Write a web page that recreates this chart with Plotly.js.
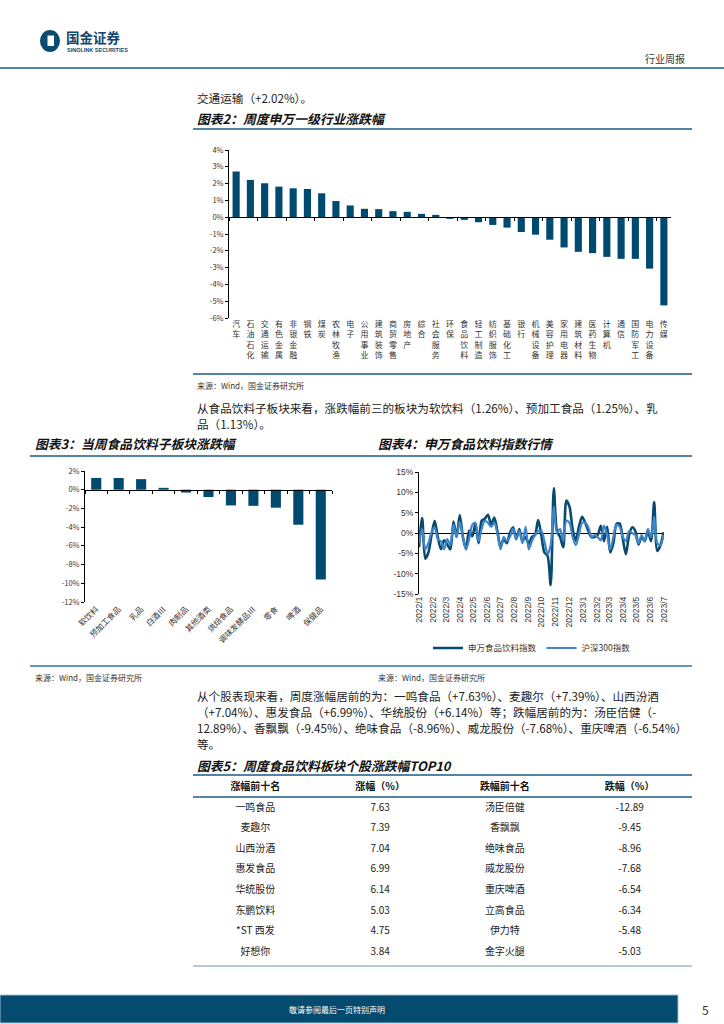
<!DOCTYPE html>
<html><head><meta charset="utf-8">
<script src="https://cdn.plot.ly/plotly-3.0.1.min.js"></script>
<style>html,body{margin:0;padding:0;background:#fff}#page{width:724px;height:1024px}</style>
</head><body><div id="page"></div>
<script>
// ---------------- data ----------------
const industries = ['汽车','石油石化','交通运输','有色金属','非银金融','钢铁','煤炭','农林牧渔','电子','公用事业','建筑装饰','商贸零售','房地产','综合','社会服务','环保','食品饮料','轻工制造','纺织服饰','基础化工','银行','机械设备','美容护理','家用电器','建筑材料','医药生物','计算机','通信','国防军工','电力设备','传媒'];
const industryChange = [2.72,2.22,2.02,1.82,1.72,1.68,1.42,0.96,0.70,0.50,0.48,0.36,0.32,0.20,0.14,-0.10,-0.16,-0.30,-0.46,-0.62,-0.88,-1.04,-1.34,-1.80,-2.06,-2.14,-2.36,-2.48,-2.48,-3.06,-5.25];
const chart2Ticks = ['4%','3%','2%','1%','0%','-1%','-2%','-3%','-4%','-5%','-6%'];

const subSectors = ['软饮料','预加工食品','乳品','白酒Ⅲ','肉制品','其他酒类','烘焙食品','调味发酵品Ⅲ','零食','啤酒','保健品'];
const subChange = [1.26,1.25,1.13,0.20,-0.30,-0.78,-1.68,-1.72,-1.92,-3.74,-9.60];
const chart3Ticks = ['2%','0%','-2%','-4%','-6%','-8%','-10%','-12%'];

const weekDates = ['2021-12-31','2022-01-07','2022-01-14','2022-01-21','2022-01-28','2022-02-04','2022-02-11','2022-02-18','2022-02-25','2022-03-04','2022-03-11','2022-03-18','2022-03-25','2022-04-01','2022-04-08','2022-04-15','2022-04-22','2022-04-29','2022-05-06','2022-05-13','2022-05-20','2022-05-27','2022-06-03','2022-06-10','2022-06-17','2022-06-24','2022-07-01','2022-07-08','2022-07-15','2022-07-22','2022-07-29','2022-08-05','2022-08-12','2022-08-19','2022-08-26','2022-09-02','2022-09-09','2022-09-16','2022-09-23','2022-09-30','2022-10-07','2022-10-14','2022-10-21','2022-10-28','2022-11-04','2022-11-11','2022-11-18','2022-11-25','2022-12-02','2022-12-09','2022-12-16','2022-12-23','2022-12-30','2023-01-06','2023-01-13','2023-01-20','2023-01-27','2023-02-03','2023-02-10','2023-02-17','2023-02-24','2023-03-03','2023-03-10','2023-03-17','2023-03-24','2023-03-31','2023-04-07','2023-04-14','2023-04-21','2023-04-28','2023-05-05','2023-05-12','2023-05-19','2023-05-26','2023-06-02','2023-06-09','2023-06-16','2023-06-23','2023-06-30'];
const swFoodBev = [-3.5,3.7,-6.3,-4.8,-0.5,3.0,-1.0,-4.0,-1.8,-2.8,-4.0,2.8,-1.0,4.4,-1.0,-4.0,0.6,-0.8,2.2,-2.5,3.0,3.5,4.5,2.0,3.8,0.5,-3.4,-1.5,-2.5,0.0,1.4,-1.5,1.0,-2.0,-1.0,-2.7,-1.0,-0.5,3.2,-0.5,-4.8,-5.6,-12.8,11.0,0.5,-1.0,-3.5,8.0,6.5,1.0,-1.9,1.5,4.0,2.5,0.5,-1.0,-1.0,-0.5,1.8,-2.0,1.5,-4.8,-2.5,2.2,2.3,-1.5,-5.2,-0.5,1.4,0.5,-2.8,-1.0,-2.0,0.5,-2.0,7.6,-4.4,-3.0,0.2];
const hs300 = [-2.5,1.0,-4.0,-2.5,0.2,1.3,-1.5,-2.0,-4.0,-1.5,-3.0,2.0,-1.0,2.8,-1.0,-4.0,-1.5,2.0,2.5,-2.0,1.0,3.0,2.5,1.5,2.5,0.0,-4.0,-1.0,-2.0,-1.0,1.0,-1.5,0.5,-2.5,1.5,-4.0,-2.0,-0.5,0.5,0.5,-2.0,-5.2,-3.0,6.5,0.0,1.0,-2.0,3.0,2.5,-1.0,-3.0,-0.5,2.5,2.5,1.5,-1.0,-0.5,-1.0,-1.8,1.8,-0.5,-4.0,-1.0,2.0,1.5,-1.0,-2.0,0.5,0.0,-0.5,-2.5,-0.5,-2.0,1.0,-1.0,4.0,-2.5,-3.0,-0.5];
const seriesNames = ['申万食品饮料指数','沪深300指数'];
const monthTicks = ['2022/1','2022/2','2022/3','2022/4','2022/5','2022/6','2022/7','2022/8','2022/9','2022/10','2022/11','2022/12','2023/1','2023/2','2023/3','2023/4','2023/5','2023/6','2023/7'];
const chart4Ticks = ['15%','10%','5%','0%','-5%','-10%','-15%'];

const tableHeader = ['涨幅前十名','涨幅（%）','跌幅前十名','跌幅（%）'];
const gainers = ['一鸣食品','麦趣尔','山西汾酒','惠发食品','华统股份','东鹏饮料','*ST 西发','好想你'];
const gainPct = [7.63,7.39,7.04,6.99,6.14,5.03,4.75,3.84];
const losers = ['汤臣倍健','香飘飘','绝味食品','威龙股份','重庆啤酒','立高食品','伊力特','金字火腿'];
const lossPct = [-12.89,-9.45,-8.96,-7.68,-6.54,-6.34,-5.48,-5.03];

// ---------------- texts ----------------
const txtIntro = '交通运输（+2.02%）。';
const txtTitle2 = '图表2：周度申万一级行业涨跌幅';
const txtSource = '来源：Wind，国金证券研究所';
const txtPara1 = ['从食品饮料子板块来看，涨跌幅前三的板块为软饮料（1.26%）、预加工食品（1.25%）、乳','品（1.13%）。'];
const txtTitle3 = '图表3：当周食品饮料子板块涨跌幅';
const txtTitle4 = '图表4：申万食品饮料指数行情';
const txtPara2 = ['从个股表现来看，周度涨幅居前的为：一鸣食品（+7.63%）、麦趣尔（+7.39%）、山西汾酒','（+7.04%）、惠发食品（+6.99%）、华统股份（+6.14%）等；跌幅居前的为：汤臣倍健（-','12.89%）、香飘飘（-9.45%）、绝味食品（-8.96%）、威龙股份（-7.68%）、重庆啤酒（-6.54%）','等。'];
const txtTitle5 = '图表5：周度食品饮料板块个股涨跌幅TOP10';

// ---------------- helpers ----------------
const W = 724, H = 1024;
const fx = p => p / W, fy = p => 1 - p / H;
const CJK = '"Noto Sans CJK SC", "Noto Sans", sans-serif';
const NAVY = '#004a70', RULE = '#1d5a86', RULE2 = '#6a95b3', TXT = '#222222';
const BODY = 11.6, TITLE = 12.8;
const pct = s => parseFloat(s);
const toDate = s => { const [y, m] = s.split('/'); return y + '-' + m.padStart(2, '0') + '-01'; };
const zeroPos = (dom, rng) => dom[0] + (0 - rng[0]) / (rng[1] - rng[0]) * (dom[1] - dom[0]);

function note(text, x, y, opt = {}) {
  return Object.assign({
    text, x: fx(x), y: fy(y), xref: 'paper', yref: 'paper', showarrow: false,
    xanchor: 'left', yanchor: 'middle',
    font: { family: CJK, size: BODY, color: TXT }
  }, opt);
}
function hline(y, x0, x1, color, w) {
  return { type: 'line', xref: 'paper', yref: 'paper', x0: fx(x0), x1: fx(x1), y0: fy(y), y1: fy(y), line: { color, width: w } };
}
const titleFont = { family: CJK, size: TITLE, color: '#111' };

// ---------------- geometry ----------------
const c2dx = [fx(229), fx(671)], c2dy = [fy(318), fy(150)], c2r = [-6, 4];
const c3dx = [fx(85), fx(332)], c3dy = [fy(602), fy(471)], c3r = [-12, 2];
const c4dx = [fx(419), fx(664)], c4dy = [fy(594), fy(472)], c4r = [-15, 15];

const vert = s => s.split('').join('<br>');

const traces = [
  { type: 'bar', x: industries, y: industryChange, xaxis: 'x', yaxis: 'y', width: 0.5,
    marker: { color: NAVY }, showlegend: false, hoverinfo: 'x+y' },
  { type: 'scatter', mode: 'markers', x: industries, y: industryChange, xaxis: 'x2', yaxis: 'y',
    marker: { opacity: 0 }, showlegend: false, hoverinfo: 'skip' },
  { type: 'bar', x: subSectors, y: subChange, xaxis: 'x3', yaxis: 'y3', width: 0.45,
    marker: { color: NAVY }, showlegend: false, hoverinfo: 'x+y' },
  { type: 'scatter', mode: 'markers', x: subSectors, y: subChange, xaxis: 'x5', yaxis: 'y3',
    marker: { opacity: 0 }, showlegend: false, hoverinfo: 'skip' },
  { type: 'scatter', mode: 'lines', x: weekDates, y: swFoodBev, xaxis: 'x4', yaxis: 'y4', name: seriesNames[0],
    line: { color: '#0b4a6f', width: 2.6, shape: 'spline', smoothing: 0.8 } },
  { type: 'scatter', mode: 'lines', x: weekDates, y: hs300, xaxis: 'x4', yaxis: 'y4', name: seriesNames[1],
    line: { color: '#3f86c8', width: 2.2, shape: 'spline', smoothing: 0.8 } },
  { type: 'table', domain: { x: [fx(193), fx(692)], y: [fy(971), fy(774)] },
    columnwidth: [1, 1, 1, 1],
    header: { values: tableHeader, height: 21, align: 'center',
      fill: { color: '#ffffff' }, line: { color: '#ffffff', width: 0 },
      font: { family: CJK, size: 10, color: '#111', weight: 'bold' } },
    cells: { values: [gainers, gainPct.map(v => v.toFixed(2)), losers, lossPct.map(v => v.toFixed(2))],
      height: 20.6, align: 'center', fill: { color: '#ffffff' }, line: { color: '#ffffff', width: 0 },
      font: { family: CJK, size: 10, color: TXT } } }
];

const tickFont = { family: CJK, size: 7.5, color: '#333' };
const layout = {
  width: W, height: H, margin: { l: 0, r: 0, t: 0, b: 0 },
  paper_bgcolor: '#ffffff', plot_bgcolor: 'rgba(0,0,0,0)',
  font: { family: CJK, color: TXT },
  // chart 2
  xaxis: { domain: c2dx, anchor: 'free', position: zeroPos(c2dy, c2r), type: 'category', range: [-0.5, industries.length - 0.5],
    showline: true, linecolor: '#000', linewidth: 1, ticks: 'outside', ticklen: 3, tickcolor: '#000', tickson: 'boundaries',
    showticklabels: false, showgrid: false, zeroline: false, fixedrange: true },
  xaxis2: { overlaying: 'x', anchor: 'y', side: 'bottom', type: 'category', range: [-0.5, industries.length - 0.5],
    tickvals: industries, ticktext: industries.map(vert), tickangle: 0, ticks: '', showline: false, showgrid: false,
    tickfont: { family: CJK, size: 8, color: '#333' }, fixedrange: true },
  yaxis: { domain: c2dy, anchor: 'x', range: c2r, tickvals: chart2Ticks.map(pct), ticktext: chart2Ticks,
    showline: true, linecolor: '#000', linewidth: 1, ticks: 'outside', ticklen: 3, tickcolor: '#000',
    showgrid: false, zeroline: false, tickfont: tickFont, fixedrange: true },
  // chart 3
  xaxis3: { domain: c3dx, anchor: 'free', position: zeroPos(c3dy, c3r), type: 'category', range: [-0.5, subSectors.length - 0.5],
    showline: true, linecolor: '#000', linewidth: 1, ticks: 'outside', ticklen: 3, tickcolor: '#000', tickson: 'boundaries',
    showticklabels: false, showgrid: false, zeroline: false, fixedrange: true },
  xaxis5: { overlaying: 'x3', anchor: 'y3', side: 'bottom', type: 'category', range: [-0.5, subSectors.length - 0.5],
    tickvals: subSectors, ticktext: subSectors, tickangle: -45, ticks: '', showline: false, showgrid: false,
    tickfont: { family: CJK, size: 8, color: '#333' }, fixedrange: true },
  yaxis3: { domain: c3dy, anchor: 'x3', range: c3r, tickvals: chart3Ticks.map(pct), ticktext: chart3Ticks,
    showline: true, linecolor: '#000', linewidth: 1, ticks: 'outside', ticklen: 3, tickcolor: '#000',
    showgrid: false, zeroline: false, tickfont: tickFont, fixedrange: true },
  // chart 4
  xaxis4: { domain: c4dx, anchor: 'y4', type: 'date', range: ['2021-12-31', '2023-07-01'],
    tickvals: monthTicks.map(toDate), ticktext: monthTicks, tickangle: -90, ticks: '', showline: false, showgrid: false,
    zeroline: false, tickfont: { family: 'Arial, "Liberation Sans", sans-serif', size: 8.5, color: '#333' }, fixedrange: true },
  yaxis4: { domain: c4dy, anchor: 'x4', range: c4r, tickvals: chart4Ticks.map(pct), ticktext: chart4Ticks,
    showline: true, linecolor: '#000', linewidth: 1, ticks: 'outside', ticklen: 3, tickcolor: '#000',
    showgrid: false, zeroline: true, zerolinecolor: '#000', zerolinewidth: 1,
    tickfont: { family: 'Arial, "Liberation Sans", sans-serif', size: 8.5, color: '#333' }, fixedrange: true },
  showlegend: true,
  legend: { orientation: 'h', x: fx(532), y: fy(648), xanchor: 'center', yanchor: 'middle',
    font: { family: CJK, size: 8.5, color: '#333' }, bgcolor: 'rgba(0,0,0,0)', itemwidth: 30, tracegroupgap: 0 },
  shapes: [
    // logo
    { type: 'circle', xref: 'paper', yref: 'paper', x0: fx(40), x1: fx(60), y0: fy(52), y1: fy(30), fillcolor: '#0b4a72', line: { width: 0 } },
    { type: 'rect', xref: 'paper', yref: 'paper', x0: fx(47.5), x1: fx(54), y0: fy(46), y1: fy(35.5), fillcolor: '#ffffff', line: { width: 0 } },
    hline(68, 0, 724, RULE, 1.6),
    hline(129, 193, 692, RULE, 1.6),
    hline(374, 193, 692, RULE, 1.6),
    hline(456, 30, 692, RULE, 1.6),
    hline(666, 30, 692, RULE2, 2),
    hline(775, 193, 692, RULE, 1.5),
    hline(797, 193, 692, RULE, 1.5),
    hline(966, 193, 692, RULE2, 1.2),
    { type: 'rect', xref: 'paper', yref: 'paper', x0: 0, x1: fx(678), y0: fy(1023), y1: fy(995), fillcolor: '#054b70', line: { color: '#9fbdd1', width: 1 } }
  ],
  annotations: [
    note('<b>国金证券</b>', 64, 36.5, { font: { family: CJK, size: 13.5, color: '#13466e' } }),
    note('<b>SINOLINK SECURITIES</b>', 65, 49.5, { font: { family: 'Arial, "Liberation Sans", sans-serif', size: 5.5, color: '#13466e' } }),
    note('行业周报', 687, 58, { xanchor: 'right', font: { family: CJK, size: 10, color: '#333' } }),
    note(txtIntro, 195, 98),
    note('<b><i>' + txtTitle2 + '</i></b>', 195, 118, { font: titleFont }),
    note(txtSource, 195, 385, { font: { family: CJK, size: 8, color: '#333' } }),
    note(txtPara1[0], 195, 408),
    note(txtPara1[1], 195, 424),
    note('<b><i>' + txtTitle3 + '</i></b>', 33, 443, { font: titleFont }),
    note('<b><i>' + txtTitle4 + '</i></b>', 376, 443, { font: titleFont }),
    note(txtSource, 33, 677, { font: { family: CJK, size: 8, color: '#333' } }),
    note(txtSource, 376, 677, { font: { family: CJK, size: 8, color: '#333' } }),
    note(txtPara2[0], 195, 696),
    note(txtPara2[1], 195, 712),
    note(txtPara2[2], 195, 728),
    note(txtPara2[3], 195, 744),
    note('<b><i>' + txtTitle5 + '</i></b>', 195, 765, { font: titleFont }),
    note('敬请参阅最后一页特别声明', 337, 1009, { xanchor: 'center', font: { family: CJK, size: 8, color: '#ffffff' } }),
    note('5', 705, 1009, { xanchor: 'center', font: { family: CJK, size: 12, color: '#333' } })
  ]
};

Plotly.newPlot('page', traces, layout, { staticPlot: true, displayModeBar: false });
</script>
</body></html>
